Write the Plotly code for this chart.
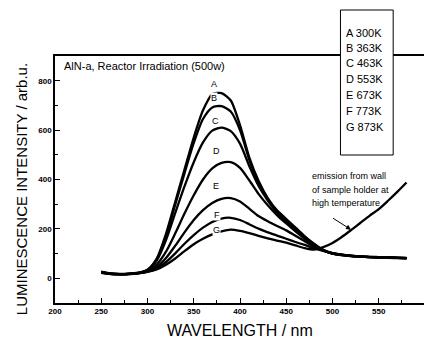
import plotly.graph_objects as go

# ---- data ----
wavelength = [250, 260, 270, 280, 290, 300, 310, 320, 330, 340, 350, 360, 370, 380, 390,
              400, 410, 420, 430, 440, 450, 460, 470, 480, 490, 500, 510, 520, 530, 540,
              550, 560, 570, 580]

curve_A = [25, 18, 17, 18, 22, 35, 80, 180, 310, 440, 570, 680, 745, 750, 720,
           620, 490, 395, 325, 275, 240, 205, 170, 140, 115, 102, 96, 92, 89, 87,
           86, 85, 84, 83]
curve_B = [22, 17, 16, 17, 21, 34, 78, 172, 298, 425, 548, 645, 692, 697, 675,
           600, 480, 388, 322, 272, 236, 202, 168, 138, 114, 101, 95, 91, 88, 86,
           85, 84, 83, 82]
curve_C = [27, 20, 18, 19, 23, 33, 72, 155, 265, 372, 470, 550, 598, 610, 596,
           545, 455, 375, 315, 266, 230, 197, 165, 137, 114, 100, 94, 90, 88, 86,
           85, 83, 82, 81]
curve_D = [24, 18, 17, 18, 21, 30, 56, 108, 182, 262, 336, 400, 445, 467, 470,
           447, 397, 342, 296, 256, 222, 190, 160, 133, 113, 100, 94, 90, 88, 86,
           85, 84, 83, 82]
curve_E = [26, 19, 17, 18, 21, 28, 46, 82, 132, 186, 236, 276, 305, 322, 325,
           311, 282, 252, 231, 212, 194, 172, 150, 128, 112, 100, 95, 91, 88, 86,
           85, 84, 83, 82]
curve_F = [23, 18, 16, 17, 20, 27, 40, 66, 101, 140, 175, 205, 228, 242, 245,
           236, 219, 201, 186, 173, 160, 147, 135, 122, 111, 102, 96, 92, 89, 87,
           85, 84, 83, 82]
curve_G = [25, 19, 17, 18, 21, 26, 36, 55, 80, 110, 138, 160, 178, 190, 197,
           192, 183, 172, 162, 153, 144, 133, 122, 116, 126, 143, 167, 195, 224, 253,
           280, 314, 350, 388]

curve_names = ["A", "B", "C", "D", "E", "F", "G"]
curve_values = [curve_A, curve_B, curve_C, curve_D, curve_E, curve_F, curve_G]
temperatures = ["300K", "363K", "463K", "553K", "673K", "773K", "873K"]
label_wl = [372, 372, 373, 375, 374, 375, 375]
label_val = [787, 730, 637, 515, 373, 255, 195]

x_ticks = [200, 250, 300, 350, 400, 450, 500, 550, 600]
x_minor = [225, 275, 325, 375, 425, 475, 525, 575]
y_ticks = [0, 200, 400, 600, 800]
y_minor = [-100, 100, 300, 500, 700, 900]

FONT = "Liberation Sans, Arial, sans-serif"

fig = go.Figure()
for name, vals in zip(curve_names, curve_values):
    fig.add_trace(go.Scatter(x=wavelength, y=vals, mode="lines", name=name,
                             line=dict(color="black", width=2.3, shape="spline", smoothing=0.7),
                             showlegend=False, hoverinfo="skip"))

# the page adds an 8px body margin; lay out in reference pixels minus that offset
OFF = 8
W, H = 432 - OFF, 340 - OFF
L, R, T, B = 55 - OFF, 5, 56 - OFF, 37
pw, ph = W - L - R, H - T - B


def px(xp):
    return (xp - OFF - L) / pw


def py(yp):
    return (H - B - (yp - OFF)) / ph


annotations = []
# curve letters
for name, xw, yv in zip(curve_names, label_wl, label_val):
    annotations.append(dict(x=xw, y=yv, xref="x", yref="y", text=name, showarrow=False,
                            xanchor="center", yanchor="middle",
                            font=dict(family=FONT, size=9, color="black"),
                            bgcolor="white", borderpad=0))
# title inside plot
annotations.append(dict(x=px(62), y=py(66), xref="paper", yref="paper", xanchor="left",
                        yanchor="middle", text="AlN-a, Reactor Irradiation (500w)",
                        showarrow=False, font=dict(family=FONT, size=11, color="black")))
# legend box entries
legend_y = [33, 47.5, 63, 79, 95, 111, 127]
for name, temp, ly in zip(curve_names, temperatures, legend_y):
    annotations.append(dict(x=px(346), y=py(ly), xref="paper", yref="paper", xanchor="left",
                            yanchor="middle", text=f"{name} {temp}", showarrow=False,
                            font=dict(family=FONT, size=11, color="black")))
# emission note
note_lines = ["emission from wall", "of sample holder at", "high temperature"]
for line, ly in zip(note_lines, [176, 190, 203]):
    annotations.append(dict(x=px(311), y=py(ly), xref="paper", yref="paper", xanchor="left",
                            yanchor="middle", text=line, showarrow=False,
                            font=dict(family=FONT, size=9, color="black")))
# arrow
annotations.append(dict(x=520, y=197, xref="x", yref="y", ax=499, ay=247, axref="x", ayref="y",
                        text="", showarrow=True, arrowhead=2, arrowsize=1, arrowwidth=1,
                        arrowcolor="black"))
# axis titles
annotations.append(dict(x=px(21), y=py(189), xref="paper", yref="paper", textangle=-90,
                        xanchor="center", yanchor="middle",
                        text="LUMINESCENCE INTENSITY / arb.u.", showarrow=False,
                        font=dict(family=FONT, size=15, color="black")))
annotations.append(dict(x=px(241), y=py(330), xref="paper", yref="paper",
                        xanchor="center", yanchor="middle",
                        text="WAVELENGTH / nm", showarrow=False,
                        font=dict(family=FONT, size=16, color="black")))

shapes = [
    dict(type="rect", xref="paper", yref="paper", x0=px(342), x1=px(395),
         y0=py(155), y1=py(10), line=dict(color="black", width=1),
         fillcolor="white", layer="above"),
]

fig.update_layout(
    width=W, height=H, margin=dict(l=L, r=R, t=T, b=B),
    paper_bgcolor="white", plot_bgcolor="white",
    annotations=annotations, shapes=shapes,
    xaxis=dict(range=[200, 600], tickmode="array", tickvals=x_ticks,
               ticktext=[f"<b>{v}</b>" for v in x_ticks],
               ticks="inside", ticklen=5, tickcolor="black", tickwidth=1.2,
               showline=True, linecolor="black", linewidth=1.5, mirror=True,
               showgrid=False, zeroline=False,
               minor=dict(tickvals=x_minor, ticks="inside", ticklen=3,
                          tickcolor="black", tickwidth=1.2),
               tickfont=dict(family=FONT, size=8, color="black")),
    yaxis=dict(range=[-100, 900], tickmode="array", tickvals=y_ticks,
               ticktext=[f"<b>{v}</b>" for v in y_ticks],
               ticks="inside", ticklen=5, tickcolor="black", tickwidth=1.2,
               showline=True, linecolor="black", linewidth=1.5, mirror=True,
               showgrid=False, zeroline=False,
               minor=dict(tickvals=y_minor, ticks="inside", ticklen=3,
                          tickcolor="black", tickwidth=1.2),
               tickfont=dict(family=FONT, size=8, color="black")),
)

fig.write_html("out.html")
